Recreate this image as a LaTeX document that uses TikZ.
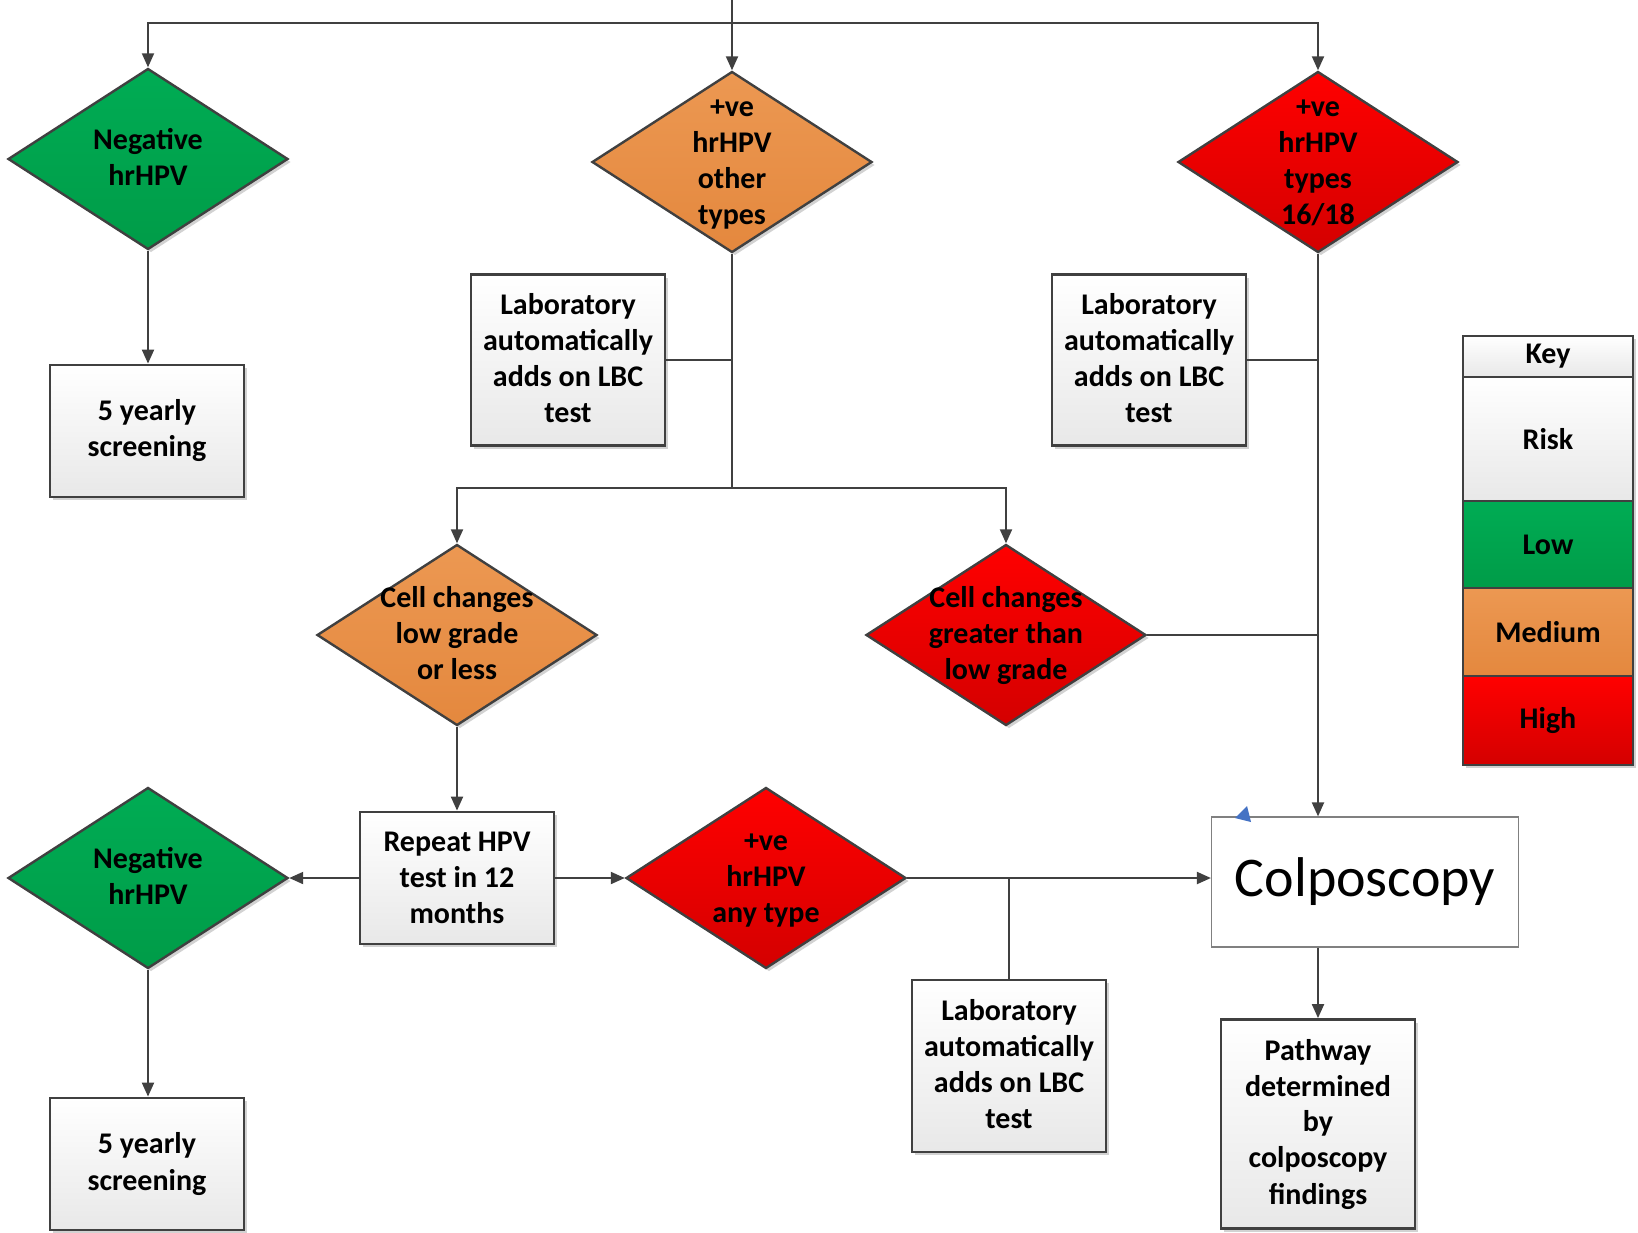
\documentclass[tikz,border=0pt]{standalone}
\usepackage{fontspec}
\setmainfont{Carlito}
\usetikzlibrary{shapes.geometric,arrows.meta,shadows}
\definecolor{lowtop}{RGB}{0,172,84}
\definecolor{lowbot}{RGB}{0,156,72}
\definecolor{medtop}{RGB}{236,152,82}
\definecolor{medbot}{RGB}{228,136,62}
\definecolor{hightop}{RGB}{255,0,0}
\definecolor{highbot}{RGB}{212,0,0}
\definecolor{edge}{RGB}{64,64,64}
\definecolor{tick}{RGB}{68,114,196}
\newcommand{\dtext}[1]{\smash{\makebox[0pt]{\raisebox{-4pt}{\begin{tabular}{@{}c@{}}#1\end{tabular}}}}}
\begin{document}
\begin{tikzpicture}[x=0.5pt,y=-0.5pt,
    font=\fontsize{15}{18}\selectfont\bfseries,
    shade/.style={drop shadow={shadow xshift=1.5pt,shadow yshift=-1.5pt,fill=black!35,opacity=.5}},
    box/.style={rectangle,draw=edge,line width=1.4pt,top color=white,bottom color=black!9,
      align=center,inner sep=2pt,minimum width=97pt,minimum height=66pt,shade},
    dia/.style={diamond,draw=edge,line width=1.2pt,inner sep=0pt,
      minimum width=140pt,minimum height=90.5pt,shade},
    low/.style={dia,top color=lowtop,bottom color=lowbot},
    med/.style={dia,top color=medtop,bottom color=medbot},
    high/.style={dia,top color=hightop,bottom color=highbot},
    keybox/.style={box,minimum width=85pt},
    line/.style={draw=edge,line width=1pt},
    arr/.style={line,-{Triangle[length=7pt,width=6pt]}}]
  \useasboundingbox (0,0) rectangle (1638,1232);

  % diamonds
  \node[low]  (d1) at (148,159)  {\dtext{Negative\\hrHPV}};
  \node[med]  (d2) at (732,162)  {\dtext{+ve\\hrHPV\\other\\types}};
  \node[high] (d3) at (1318,162) {\dtext{+ve\\hrHPV\\types\\16/18}};
  \node[med]  (d4) at (457,635)  {\dtext{Cell changes\\low grade\\or less}};
  \node[high] (d5) at (1006,635) {\dtext{Cell changes\\greater than\\low grade}};
  \node[low]  (d6) at (148,878)  {\dtext{Negative\\hrHPV}};
  \node[high] (d7) at (766,878)  {\dtext{+ve\\hrHPV\\any type}};

  % boxes
  \node[box] (b1) at (147,431) {5 yearly\\screening};
  \node[box,minimum height=85.5pt] (lab1) at (568,360) {Laboratory\\automatically\\adds on LBC\\test\rule{0pt}{0pt}\vspace{2pt}};
  \node[box,minimum height=85.5pt] (lab2) at (1149,360) {Laboratory\\automatically\\adds on LBC\\test\vspace{2pt}};
  \node[box] (rep) at (457,878) {Repeat HPV\\test in 12\\months};
  \node[box] (b2) at (147,1164) {5 yearly\\screening};
  \node[box,minimum height=86pt] (lab3) at (1009,1066) {Laboratory\\automatically\\adds on LBC\\test\vspace{2pt}};
  \node[box,minimum height=104.5pt] (path) at (1318,1124) {Pathway\\determined\\by\\colposcopy\\findings};
  \node[draw=black!50,line width=0.6pt,fill=white,minimum width=153.5pt,minimum height=65pt,
    font=\fontsize{28}{32}\selectfont\mdseries] (colpo) at (1365,882) {\raisebox{-3pt}{Colposcopy}};
  \fill[tick] (1235,818) -- (1247,806) -- (1251,822) -- cycle;

  % key
  \node[keybox,minimum height=20.5pt] (k0) at (1548,356.5) {Key};
  \node[keybox,minimum height=62pt] (k1) at (1548,439) {Risk};
  \node[keybox,minimum height=43.5pt,top color=lowtop,bottom color=lowbot] (k2) at (1548,544.5) {Low};
  \node[keybox,minimum height=44pt,top color=medtop,bottom color=medbot] (k3) at (1548,632) {Medium};
  \node[keybox,minimum height=44.5pt,top color=hightop,bottom color=highbot] (k4) at (1548,720.5) {High};

  % connectors
  \coordinate (top) at (732,0);
  \coordinate (split) at (732,23);
  \coordinate (split2) at (732,488);
  \draw[arr] (top) -- (d2.north);
  \draw[arr] (split) -| (d1.north);
  \draw[arr] (split) -| (d3.north);
  \draw[arr] (d1.south) -- (d1.south |- b1.north);
  \draw[line] (lab1.east) -- (lab1.east -| d2.south);
  \draw[line] (d2.south) -- (split2);
  \draw[arr] (split2) -| (d4.north);
  \draw[arr] (split2) -| (d5.north);
  \draw[line] (lab2.east) -- (lab2.east -| d3.south);
  \draw[arr] (d3.south) -- (d3.south |- colpo.north);
  \draw[line] (d5.east) -- (d5.east -| d3.south);
  \draw[arr] (d4.south) -- (rep.north);
  \draw[arr] (rep.west) -- (d6.east);
  \draw[arr] (rep.east) -- (d7.west);
  \draw[arr] (d6.south) -- (d6.south |- b2.north);
  \draw[arr] (d7.east) -- (d7.east -| colpo.west);
  \draw[line] (lab3.north) -- (lab3.north |- d7.east);
  \draw[arr] (colpo.south -| path.north) -- (path.north);
\end{tikzpicture}
\end{document}
